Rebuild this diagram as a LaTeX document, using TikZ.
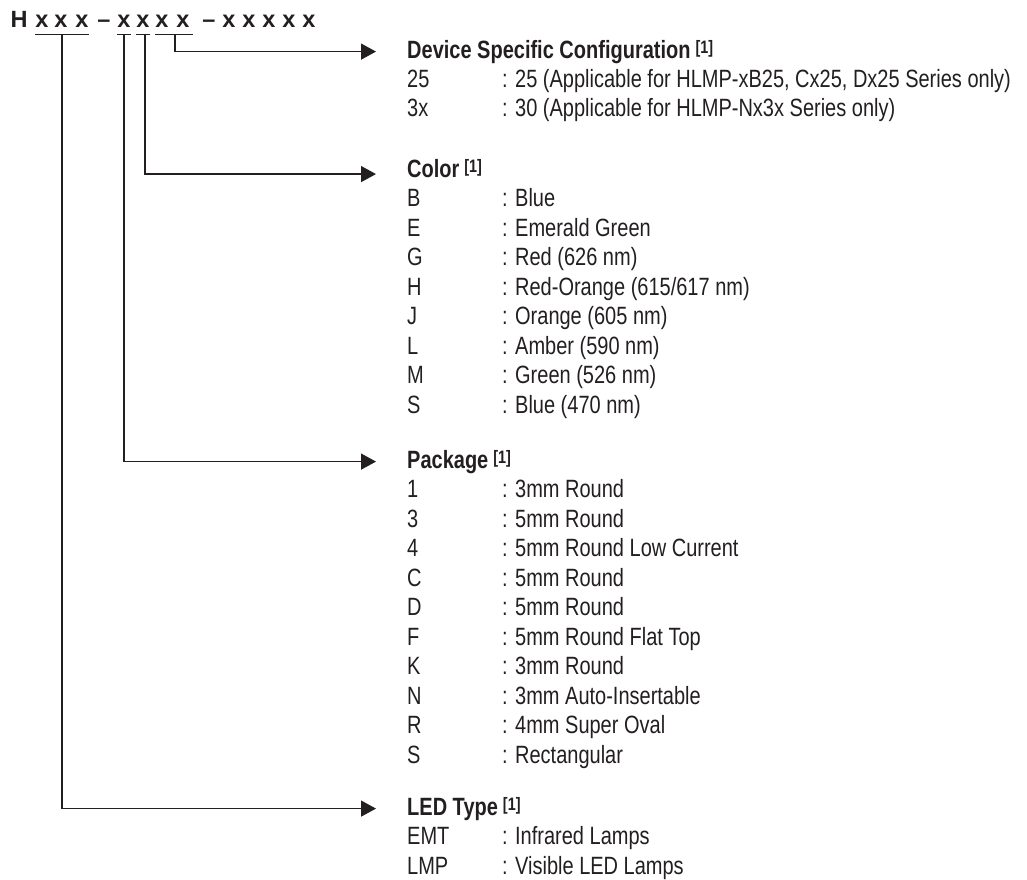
\documentclass[tikz,border=0pt]{standalone}
\usepackage{fontspec}
\setmainfont{Liberation Sans}[FakeStretch=0.8]
\newfontfamily\pnfont{Liberation Sans}
\usepackage{tikz}
\usetikzlibrary{arrows.meta}
\definecolor{ink}{HTML}{231F20}
\tikzstyle{pn}=[anchor=base, inner sep=0pt, font=\pnfont\fontsize{23.5}{25}\selectfont\bfseries, text=ink]
\tikzstyle{head}=[anchor=base west, inner sep=0pt, font=\fontsize{25}{27}\selectfont\bfseries, text=ink]
\tikzstyle{key}=[anchor=base west, inner sep=0pt, font=\fontsize{25}{27}\selectfont, text=ink]
\tikzstyle{desc}=[key]
\tikzstyle{uline}=[-, draw=ink, line width=1pt]
\tikzstyle{lead}=[draw=ink, line width=1.4pt, shorten >=31pt, -{Triangle[length=15pt,width=16pt]}]
\newcommand{\fnref}{\hspace{5pt}\raisebox{5pt}{\fontsize{18}{18}\selectfont[1]}}

\begin{document}
\begin{tikzpicture}[x=1pt,y=-1pt]
			\useasboundingbox (0,0) rectangle (1027,879);

			%The part number
			\foreach \px/\pc/\pname in {19/H/p0, 42/x/p1, 61/x/p2, 82/x/p3, 104/\textendash/d1,
					124/x/p4, 143/x/p5, 162/x/p6, 183/x/p7, 209/\textendash/d2,
					229/x/p8, 249/x/p9, 269/x/p10, 289/x/p11, 309/x/p12}
				\node[pn] (\pname) at (\px,27) {\pc};

			%The underlines
			\coordinate (u1) at (62,34);
			\coordinate (u2) at (124,34);
			\coordinate (u3) at (145,34);
			\coordinate (u4) at (175,34);
			\draw[uline] (p1.west |- u1) -- (p3.east |- u1);
			\draw[uline] (p4.west |- u2) -- (p4.east |- u2);
			\draw[uline] (p5.west |- u3) -- (p5.east |- u3);
			\draw[uline] (p6.west |- u4) -- ([xshift=3pt]p7.east |- u4);

			%The headings
			\node[head] (dev) at (407,58) {Device Specific Configuration\fnref};
			\node[head] (col) at (407,177) {Color\fnref};
			\node[head] (pkg) at (407,468) {Package\fnref};
			\node[head] (led) at (407,815) {LED Type\fnref};

			%The leads
			\draw[lead] (u4) |- (dev.west);
			\draw[lead] (u3) |- ([yshift=-6pt]col.west);
			\draw[lead] (u2) |- (pkg.west);
			\draw[lead] (u1) |- (led.west);

			%The device configurations
			\foreach \k/\d [count=\i] in {25/{25 (Applicable for HLMP-xB25, Cx25, Dx25 Series only)},
					3x/{30 (Applicable for HLMP-Nx3x Series only)}} {
				\node[key] (dev-k\i) at (407,58+29*\i) {\k};
				\node[desc] (dev-d\i) at (502,58+29*\i) {: \d};
			}

			%The colors
			\foreach \k/\d [count=\i] in {B/Blue, E/Emerald Green, G/Red (626 nm),
					H/{Red-Orange (615/617 nm)}, J/Orange (605 nm), L/Amber (590 nm),
					M/Green (526 nm), S/Blue (470 nm)} {
				\node[key] (col-k\i) at (407,177+29.5*\i) {\k};
				\node[desc] (col-d\i) at (502,177+29.5*\i) {: \d};
			}

			%The packages
			\foreach \k/\d [count=\i] in {1/3mm Round, 3/5mm Round, 4/5mm Round Low Current,
					C/5mm Round, D/5mm Round, F/5mm Round Flat Top, K/3mm Round,
					N/3mm Auto-Insertable, R/4mm Super Oval, S/Rectangular} {
				\node[key] (pkg-k\i) at (407,468+29.5*\i) {\k};
				\node[desc] (pkg-d\i) at (502,468+29.5*\i) {: \d};
			}

			%The LED types
			\foreach \k/\d [count=\i] in {EMT/Infrared Lamps, LMP/Visible LED Lamps} {
				\node[key] (led-k\i) at (407,815+29.5*\i) {\k};
				\node[desc] (led-d\i) at (502,815+29.5*\i) {: \d};
			}
		\end{tikzpicture}
\end{document}
